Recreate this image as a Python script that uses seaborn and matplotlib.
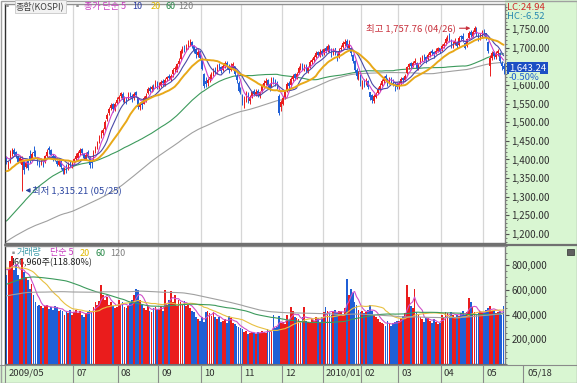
import matplotlib
matplotlib.use("Agg")
import matplotlib.pyplot as plt
import matplotlib.transforms as mtransforms
from matplotlib.lines import Line2D
from matplotlib.patches import Rectangle
from matplotlib.ticker import FuncFormatter, MultipleLocator
import numpy as np
import pandas as pd
import seaborn as sns

# ---------------- data (KOSPI daily, volume in thousand shares) ----------------
KRX_HOLIDAYS = ["2009-10-02", "2009-12-25", "2009-12-31", "2010-01-01",
                "2010-02-15", "2010-03-01", "2010-05-05"]

# closes / volumes before the visible window (only feed the moving averages)
PRE_CLOSE = [
    1085, 1060, 990, 946, 1003, 1026, 1052, 1035, 1061, 1076,
    1030, 1028, 1035, 1060, 1103, 1098, 1132, 1150, 1155, 1168, 1162, 1174, 1162, 1143, 1123, 1120, 1125, 1110, 1115, 1120, 1124,
    1157, 1173, 1228, 1206, 1194, 1180, 1145, 1125, 1128, 1120, 1135, 1126, 1100, 1105, 1090, 1110, 1120, 1150, 1162, 1160,
    1146, 1140, 1170, 1185, 1191, 1201, 1195, 1180, 1165, 1127, 1117, 1110, 1075, 1068, 1086, 1078, 1063, 1060, 1055, 1063,
    1025, 1018, 1060, 1054, 1071, 1058, 1100, 1125, 1127, 1150, 1160, 1170, 1175, 1183, 1190, 1198, 1228, 1205, 1220, 1230, 1215, 1206,
    1228, 1255, 1300, 1294, 1270, 1296, 1336, 1330, 1346, 1355, 1363, 1345, 1327, 1342, 1320, 1325, 1335, 1362, 1345, 1368, 1375, 1369,
    1395, 1369, 1398, 1410, 1420, 1412, 1396,
]
PRE_VOLUME = [
    480, 460, 520, 510, 470, 450, 490, 460, 440, 450,
    470, 480, 460, 500, 520, 490, 510, 480, 470, 460, 450, 440, 430, 420, 410, 400, 420, 410, 400, 390, 380,
    420, 450, 520, 480, 470, 460, 450, 440, 430, 460, 470, 450, 440, 420, 410, 430, 440, 460, 470, 450,
    470, 480, 500, 520, 510, 490, 480, 470, 460, 450, 460, 470, 480, 450, 460, 440, 450, 460, 440, 450,
    480, 500, 520, 530, 510, 520, 540, 560, 550, 540, 570, 580, 560, 550, 570, 600, 620, 580, 560, 590, 570, 550,
    620, 680, 750, 720, 700, 760, 800, 780, 820, 770, 790, 760, 740, 780, 800, 820, 760, 790, 800, 780, 770, 760,
    780, 760, 800, 780, 790, 770, 760,
]

OPEN = [
    1405, 1380, 1392, 1415, 1425, 1420, 1410, 1395, 1385, 1395, 1380, 1395, 1410,
    1400, 1420, 1422, 1400, 1392, 1388, 1398, 1392, 1410, 1430, 1425, 1408, 1410, 1395, 1385, 1395, 1378, 1368, 1385, 1375, 1392, 1380,
    1392, 1402, 1405, 1418, 1428, 1415, 1400, 1420, 1405, 1395, 1400, 1422, 1432, 1450, 1462, 1470, 1482, 1508, 1525, 1538, 1548, 1535, 1552,
    1562, 1570, 1575, 1558, 1565, 1565, 1578, 1570, 1565, 1580, 1565, 1540, 1555, 1550, 1560, 1578, 1592, 1588, 1598, 1595, 1605,
    1595, 1600, 1610, 1600, 1615, 1625, 1615, 1628, 1642, 1640, 1655, 1670, 1692, 1705, 1692, 1698, 1710, 1715, 1705, 1695, 1680, 1690,
    1670, 1630, 1610, 1605, 1612, 1620, 1630, 1642, 1635, 1655, 1648, 1640, 1650, 1660, 1650, 1640, 1645, 1650, 1625, 1605, 1590,
    1570, 1545, 1560, 1575, 1558, 1570, 1585, 1575, 1585, 1570, 1585, 1598, 1605, 1612, 1600, 1598, 1618, 1612, 1608, 1570, 1540,
    1550, 1568, 1585, 1605, 1600, 1615, 1628, 1620, 1632, 1645, 1655, 1642, 1652, 1638, 1648, 1662, 1668, 1675, 1688, 1678, 1690,
    1685, 1698, 1692, 1705, 1695, 1685, 1698, 1680, 1675, 1695, 1702, 1710, 1718, 1700, 1700, 1680, 1665, 1640, 1620, 1625,
    1598, 1610, 1605, 1610, 1580, 1572, 1558, 1568, 1578, 1588, 1600, 1610, 1625, 1615, 1605, 1618, 1612, 1605, 1602,
    1598, 1605, 1618, 1612, 1632, 1648, 1658, 1652, 1660, 1660, 1645, 1658, 1668, 1678, 1675, 1670, 1680, 1690, 1688, 1685, 1690, 1698,
    1695, 1705, 1712, 1722, 1732, 1718, 1702, 1712, 1715, 1708, 1730, 1732, 1712, 1705, 1725, 1742, 1732, 1742, 1752, 1735, 1725, 1738,
    1745, 1738, 1715, 1650, 1672, 1688, 1675, 1685, 1685, 1660, 1650,
]
HIGH = [
    1410, 1395, 1425, 1432, 1430, 1423, 1412, 1408, 1410, 1398, 1396, 1400, 1425,
    1420, 1435, 1425, 1405, 1398, 1405, 1402, 1412, 1428, 1435, 1428, 1415, 1412, 1398, 1400, 1398, 1380, 1380, 1388, 1392, 1395, 1395,
    1405, 1418, 1422, 1432, 1430, 1418, 1420, 1425, 1408, 1400, 1425, 1436, 1450, 1465, 1478, 1485, 1505, 1525, 1540, 1552, 1552, 1555, 1568,
    1572, 1582, 1580, 1570, 1568, 1580, 1582, 1575, 1580, 1585, 1568, 1555, 1560, 1570, 1578, 1595, 1598, 1600, 1602, 1612, 1610,
    1608, 1612, 1615, 1618, 1625, 1628, 1630, 1645, 1652, 1660, 1672, 1695, 1705, 1708, 1710, 1720, 1722, 1718, 1708, 1698, 1695, 1692,
    1672, 1632, 1620, 1618, 1628, 1635, 1645, 1648, 1655, 1660, 1652, 1658, 1665, 1665, 1655, 1660, 1662, 1652, 1630, 1610, 1595,
    1575, 1570, 1585, 1580, 1572, 1585, 1590, 1588, 1590, 1585, 1602, 1612, 1618, 1615, 1605, 1620, 1622, 1615, 1610, 1575, 1560,
    1570, 1585, 1608, 1610, 1620, 1630, 1632, 1635, 1650, 1658, 1660, 1656, 1655, 1650, 1668, 1672, 1680, 1690, 1692, 1695, 1696,
    1700, 1705, 1710, 1708, 1698, 1700, 1700, 1685, 1698, 1708, 1718, 1722, 1722, 1720, 1702, 1682, 1668, 1645, 1638, 1628,
    1612, 1615, 1618, 1612, 1582, 1575, 1575, 1582, 1595, 1605, 1615, 1625, 1628, 1618, 1620, 1622, 1615, 1608, 1608,
    1610, 1620, 1622, 1630, 1652, 1660, 1662, 1665, 1672, 1662, 1660, 1675, 1680, 1682, 1678, 1685, 1692, 1695, 1690, 1698, 1702, 1700,
    1710, 1715, 1728, 1735, 1738, 1722, 1718, 1725, 1718, 1730, 1735, 1738, 1715, 1725, 1745, 1748, 1748, 1758, 1755, 1738, 1740, 1748,
    1750, 1740, 1718, 1680, 1692, 1690, 1690, 1695, 1688, 1665, 1660,
]
LOW = [
    1388, 1375, 1390, 1410, 1410, 1405, 1390, 1390, 1315, 1360, 1378, 1372, 1390,
    1398, 1410, 1405, 1385, 1380, 1385, 1380, 1390, 1406, 1415, 1408, 1395, 1395, 1382, 1382, 1375, 1362, 1360, 1365, 1372, 1380, 1378,
    1388, 1398, 1402, 1412, 1412, 1400, 1398, 1405, 1378, 1376, 1398, 1418, 1428, 1445, 1458, 1465, 1478, 1502, 1520, 1532, 1528, 1530, 1548,
    1555, 1565, 1555, 1552, 1548, 1560, 1565, 1555, 1560, 1568, 1535, 1532, 1535, 1548, 1555, 1575, 1580, 1582, 1585, 1592, 1588,
    1590, 1595, 1598, 1598, 1610, 1612, 1610, 1622, 1635, 1635, 1650, 1668, 1685, 1688, 1690, 1695, 1705, 1698, 1685, 1672, 1675, 1668,
    1640, 1592, 1595, 1598, 1608, 1615, 1625, 1628, 1630, 1640, 1632, 1638, 1645, 1642, 1632, 1638, 1640, 1625, 1605, 1580, 1575,
    1545, 1538, 1555, 1552, 1550, 1565, 1570, 1570, 1568, 1565, 1582, 1595, 1600, 1592, 1585, 1595, 1602, 1598, 1590, 1520, 1530,
    1545, 1562, 1582, 1590, 1595, 1610, 1612, 1615, 1628, 1640, 1640, 1638, 1635, 1632, 1645, 1655, 1662, 1672, 1675, 1675, 1678,
    1680, 1685, 1688, 1688, 1676, 1680, 1680, 1665, 1672, 1690, 1698, 1705, 1700, 1695, 1678, 1658, 1635, 1615, 1612, 1598,
    1590, 1595, 1600, 1590, 1560, 1552, 1552, 1565, 1575, 1585, 1598, 1605, 1612, 1598, 1602, 1605, 1598, 1585, 1588,
    1590, 1600, 1605, 1610, 1630, 1642, 1645, 1648, 1655, 1640, 1640, 1655, 1665, 1665, 1660, 1668, 1675, 1680, 1672, 1682, 1688, 1685,
    1692, 1700, 1708, 1718, 1715, 1700, 1698, 1708, 1700, 1705, 1720, 1715, 1695, 1702, 1722, 1728, 1728, 1738, 1732, 1718, 1720, 1728,
    1730, 1720, 1685, 1624, 1668, 1670, 1670, 1678, 1658, 1640, 1630,
]
CLOSE = [
    1395, 1387, 1420, 1427, 1415, 1413, 1394, 1403, 1400, 1372, 1391, 1378, 1395,
    1415, 1418, 1410, 1390, 1387, 1400, 1385, 1408, 1420, 1425, 1412, 1405, 1400, 1388, 1395, 1380, 1368, 1375, 1372, 1388, 1385, 1390,
    1400, 1410, 1418, 1425, 1418, 1405, 1412, 1410, 1385, 1390, 1420, 1430, 1445, 1460, 1472, 1478, 1500, 1520, 1535, 1545, 1535, 1548, 1560,
    1567, 1578, 1560, 1565, 1555, 1575, 1572, 1562, 1575, 1572, 1541, 1550, 1545, 1565, 1570, 1590, 1585, 1595, 1590, 1605, 1592,
    1602, 1608, 1605, 1612, 1620, 1618, 1625, 1640, 1645, 1655, 1665, 1690, 1698, 1695, 1700, 1712, 1716, 1705, 1690, 1682, 1688, 1673,
    1644, 1598, 1603, 1612, 1620, 1628, 1640, 1632, 1650, 1645, 1638, 1652, 1660, 1648, 1640, 1650, 1655, 1630, 1612, 1585, 1581,
    1552, 1565, 1575, 1560, 1568, 1580, 1575, 1582, 1572, 1580, 1598, 1605, 1610, 1598, 1592, 1615, 1610, 1605, 1598, 1525, 1555,
    1565, 1580, 1602, 1598, 1615, 1625, 1618, 1630, 1645, 1652, 1645, 1650, 1640, 1645, 1662, 1668, 1675, 1685, 1680, 1688, 1683,
    1696, 1690, 1705, 1695, 1682, 1695, 1685, 1672, 1692, 1700, 1712, 1715, 1705, 1710, 1685, 1665, 1640, 1625, 1630, 1602,
    1605, 1600, 1612, 1595, 1567, 1560, 1570, 1575, 1590, 1598, 1610, 1620, 1618, 1605, 1615, 1610, 1605, 1598, 1594,
    1605, 1615, 1612, 1625, 1648, 1655, 1652, 1660, 1665, 1645, 1655, 1670, 1675, 1672, 1668, 1680, 1688, 1685, 1682, 1692, 1698, 1692,
    1705, 1710, 1722, 1730, 1720, 1705, 1712, 1718, 1705, 1725, 1728, 1722, 1700, 1722, 1740, 1735, 1742, 1752, 1738, 1725, 1735, 1741,
    1738, 1725, 1690, 1672, 1685, 1678, 1682, 1690, 1665, 1652, 1643.24,
]
VOLUME = [
    720, 770, 830, 870, 760, 800, 720, 690, 850, 740, 700, 680, 610,
    650, 560, 500, 470, 480, 470, 455, 470, 480, 445, 460, 440, 470, 460, 425, 440, 430, 400, 430, 410, 440, 395,
    420, 440, 410, 430, 400, 380, 410, 420, 440, 430, 460, 500, 480, 510, 640, 560, 520, 540, 480, 500, 470, 450, 460,
    520, 480, 500, 460, 450, 470, 490, 520, 560, 610, 600, 520, 480, 450, 440, 470, 430, 420, 450, 460, 440,
    440, 470, 430, 600, 480, 520, 590, 500, 560, 470, 520, 500, 480, 510, 470, 480, 450, 430, 420, 380, 360, 350,
    380, 340, 420, 430, 410, 390, 420, 380, 360, 380, 340, 350, 360, 330, 390, 370, 330, 320, 310, 300, 290,
    280, 260, 270, 240, 250, 260, 250, 240, 260, 250, 270, 260, 250, 280, 260, 270, 400, 290, 300, 390, 330,
    340, 320, 400, 350, 460, 430, 380, 370, 360, 340, 380, 460, 350, 340, 330, 360, 350, 380, 370, 340, 380,
    420, 460, 430, 410, 400, 420, 440, 410, 430, 420, 400, 450, 690, 560, 610, 570, 500, 480, 440, 420,
    430, 410, 420, 440, 480, 430, 400, 380, 360, 340, 330, 320, 310, 350, 330, 310, 330, 340, 350,
    350, 370, 390, 410, 640, 540, 470, 450, 610, 420, 400, 380, 360, 340, 380, 370, 350, 330, 360, 340, 320, 330,
    400, 380, 420, 410, 390, 420, 400, 380, 400, 390, 410, 430, 400, 420, 530, 500, 460, 420, 400, 410, 430, 420,
    420, 440, 450, 470, 430, 440, 410, 420, 430, 393, 466.96,
]

MONTH_LABELS = {(2009, 5): "2009/05", (2009, 7): "07", (2009, 8): "08", (2009, 9): "09",
                (2009, 10): "10", (2009, 11): "11", (2009, 12): "12", (2010, 1): "2010/01",
                (2010, 2): "02", (2010, 3): "03", (2010, 4): "04", (2010, 5): "05"}
PRICE_MA = {5: "#d040c8", 10: "#4a4aa8", 20: "#e8a818", 60: "#3c9a5c", 120: "#a0a0a0"}
VOLUME_MA = {5: "#d050c8", 20: "#e8c040", 60: "#3c9a5c", 120: "#a0a0a0"}

RED, BLUE = "#ea1c1c", "#1f5fd6"
GREEN_BG = "#d9f6d2"

dates = pd.bdate_range("2009-05-13", "2010-05-18", freq="C", holidays=KRX_HOLIDAYS)
n = len(CLOSE)
assert len(dates) == n == len(OPEN) == len(HIGH) == len(LOW) == len(VOLUME)
assert len(PRE_CLOSE) == len(PRE_VOLUME)

df = pd.DataFrame({"date": dates, "open": OPEN, "high": HIGH, "low": LOW,
                   "close": CLOSE, "volume": VOLUME})
df["i"] = np.arange(n)
df["dir"] = np.where(df["close"] >= df["open"], "up", "down")
colors = np.where(df["dir"] == "up", RED, BLUE)

all_close = pd.Series(PRE_CLOSE + CLOSE, dtype=float)
all_vol = pd.Series(PRE_VOLUME + VOLUME, dtype=float)
npre = len(PRE_CLOSE)

# ---------------- layout ----------------
sns.set_style("white")
plt.rcParams["font.family"] = ["Noto Sans CJK KR", "DejaVu Sans"]
plt.rcParams["axes.unicode_minus"] = False

W, H = 577, 383
fig = plt.figure(figsize=(W / 100, H / 100), dpi=100, facecolor="white")


def box(l, t, r, b):
    return [l / W, 1 - b / H, (r - l) / W, (b - t) / H]


def fy(y):
    return 1 - y / H


fig.add_artist(Rectangle((505 / W, 0), 72 / W, 1, transform=fig.transFigure,
                         fc=GREEN_BG, ec="none", zorder=-5))
fig.add_artist(Rectangle((0, 0), 1, fy(365), transform=fig.transFigure,
                         fc=GREEN_BG, ec="none", zorder=-5))

ax_p = fig.add_axes(box(5, 4, 505, 243))
ax_v = fig.add_axes(box(5, 246, 505, 364))
XLIM = (-0.75, n - 0.25)

# ---------------- price panel ----------------
body = np.maximum((df["close"] - df["open"]).abs(), 0.8)
ax_p.vlines(df["i"], df["low"], df["high"], colors=colors, lw=0.7, zorder=3)
ax_p.bar(df["i"], body, bottom=np.minimum(df["open"], df["close"]), width=0.72,
         color=colors, linewidth=0, zorder=3)
for w, c in PRICE_MA.items():
    ma = all_close.rolling(w).mean().iloc[npre:].to_numpy()
    sns.lineplot(x=df["i"], y=ma, ax=ax_p, color=c, linewidth=1.4 if w == 20 else 0.8,
                 zorder=4 if w <= 20 else 2)
ax_p.set_xlim(*XLIM)
ax_p.set_ylim(1176, 1817)

# ---------------- volume panel ----------------
sns.barplot(data=df, x="i", y="volume", hue="dir", palette={"up": RED, "down": BLUE},
            native_scale=True, width=0.9, dodge=False, errorbar=None, legend=False,
            saturation=1, linewidth=0, ax=ax_v, zorder=3)
for w, c in VOLUME_MA.items():
    ma = all_vol.rolling(w).mean().iloc[npre:].to_numpy()
    sns.lineplot(x=df["i"], y=ma, ax=ax_v, color=c, linewidth=0.8, zorder=4)
ax_v.set_xlim(*XLIM)
ax_v.set_ylim(0, 954)

# ---------------- axes styling ----------------
month_start = [i for i in range(n)
               if (i == 0 or dates[i].month != dates[i - 1].month)
               and (dates[i].year, dates[i].month) in MONTH_LABELS]
for ax in (ax_p, ax_v):
    ax.set_xlabel("")
    ax.set_ylabel("")
    ax.set_xticks([])
    for s in month_start[1:]:
        ax.axvline(s - 0.5, color="#d6d6d6", lw=0.9, zorder=1)
    ax.yaxis.tick_right()
    ax.tick_params(axis="y", which="major", direction="out", length=3, width=0.8,
                   color="#505050", labelsize=7, labelcolor="#303030", pad=1.5)
    ax.tick_params(axis="y", which="minor", direction="out", length=1.5, width=0.6,
                   color="#606060")
    ax.spines["left"].set_color("#303030")
    ax.spines["right"].set_color("#808080")
    ax.spines["top"].set_color("#909090")
    ax.spines["bottom"].set_color("#707070")
    for sp in ax.spines.values():
        sp.set_linewidth(1.0)

ax_p.set_yticks(np.arange(1200, 1751, 50))
ax_p.yaxis.set_minor_locator(MultipleLocator(10))
# the 1,650 label sits under the current-price box, so it is left blank
ax_p.yaxis.set_major_formatter(FuncFormatter(lambda v, _: "" if abs(v - 1650) < 1 else f"{v:,.2f}"))
ax_v.set_yticks([200, 400, 600, 800])
ax_v.yaxis.set_minor_locator(MultipleLocator(50))
ax_v.yaxis.set_major_formatter(FuncFormatter(lambda v, _: f"{int(v * 1000):,}"))

# separator between the panels
fig.add_artist(Line2D([5 / W, 1], [fy(244.5)] * 2, color="#707070", lw=1.6))

# ---------------- date strip ----------------
strip = mtransforms.blended_transform_factory(ax_v.transData, fig.transFigure)
for s in month_start:
    d = dates[s]
    ax_v.add_artist(Line2D([s - 0.5, s - 0.5], [0, fy(365)], transform=strip,
                           color="#8a8a8a", lw=0.8, clip_on=False))
    ax_v.text(s + 1.0, fy(373), MONTH_LABELS[(d.year, d.month)], transform=strip,
              fontsize=6.8, color="#303030", va="center", ha="left", clip_on=False)
fig.add_artist(Line2D([0, 1], [fy(365)] * 2, color="#8a8a8a", lw=0.8))
fig.add_artist(Line2D([523 / W] * 2, [0, fy(365)], color="#8a8a8a", lw=0.8))
fig.text(528 / W, fy(373), dates[-1].strftime("%m/%d"), fontsize=6.8, color="#303030",
         va="center", ha="left")

# ---------------- legends / labels ----------------
for x, s, c in [(3, "▪", "#909090"), (73, "▪", "#909090"), (84, "종가 단순", "#c83cc0"),
                (121, "5", "#c83cc0"), (132, "10", "#2a3aa0"), (151, "20", "#e0b800"),
                (166, "60", "#2a8a4a"), (178, "120", "#808080")]:
    fig.text(x / W, fy(6.5), s, fontsize=6.5, color=c, va="center", ha="left")
fig.text(16 / W, fy(6.5), "종합(KOSPI)", fontsize=6.5, color="#404040", va="center",
         ha="left", bbox=dict(boxstyle="square,pad=0.12", fc="#f2f2f2", ec="#c8c8c8", lw=0.6))

for x, s, c in [(9, "▪", "#909090"), (17, "거래량", "#3a9aa8"), (50, "단순 5", "#c83cc0"),
                (80, "20", "#e0b800"), (95, "60", "#2a8a4a"), (110, "120", "#808080")]:
    fig.text(x / W, fy(253), s, fontsize=6.5, color=c, va="center", ha="left")
ax_v.text(5 / 500, (364 - 263) / 118, "466,960주(118.80%)", transform=ax_v.transAxes,
          fontsize=6.5, color="#202020", va="center", ha="left", zorder=2)

# high / low markers
ax_p.text(232.4, 1752, "최고 1,757.76 (04/26)", fontsize=6.8, color="#c8303c",
          va="center", ha="right", zorder=6)
ax_p.annotate("", xy=(241.3, 1752), xytext=(232.8, 1752),
              arrowprops=dict(arrowstyle="-|>", color="#c8303c", lw=0.8, mutation_scale=5),
              zorder=6)
ax_p.text(13.4, 1317, "최저 1,315.21 (05/25)", fontsize=6.8, color="#2a44a0",
          va="center", ha="left", zorder=6)
ax_p.annotate("", xy=(8.4, 1317), xytext=(13.2, 1317),
              arrowprops=dict(arrowstyle="-|>", color="#2a44a0", lw=0.8, mutation_scale=6),
              zorder=6)

# right-hand info
fig.text(507 / W, fy(7.5), "LC:24.94", fontsize=6.8, color="#d02828", va="center", ha="left")
fig.text(507 / W, fy(16.5), "HC:-6.52", fontsize=6.8, color="#2a8ab0", va="center", ha="left")
fig.text(509 / W, fy(68), f"{CLOSE[-1]:,.2f}", fontsize=6.8, color="white", va="center",
         ha="left", bbox=dict(boxstyle="square,pad=0.18", fc="#1c4fc4", ec="none"), zorder=8)
fig.text(509 / W, fy(77), "-0.50%", fontsize=6.8, color="#2060d0", va="center", ha="left",
         bbox=dict(boxstyle="square,pad=0.05", fc=GREEN_BG, ec="none"), zorder=8)
fig.add_artist(Rectangle((567 / W, fy(255)), 7 / W, 6 / H, transform=fig.transFigure,
                         fc="#606060", ec="#303030", lw=0.5))

fig.add_artist(Rectangle((0.5 / W, 0.5 / H), 1 - 1 / W, 1 - 1 / H, transform=fig.transFigure,
                         fc="none", ec="#a0a0a0", lw=1.0))

fig.savefig("out.png", dpi=100)
